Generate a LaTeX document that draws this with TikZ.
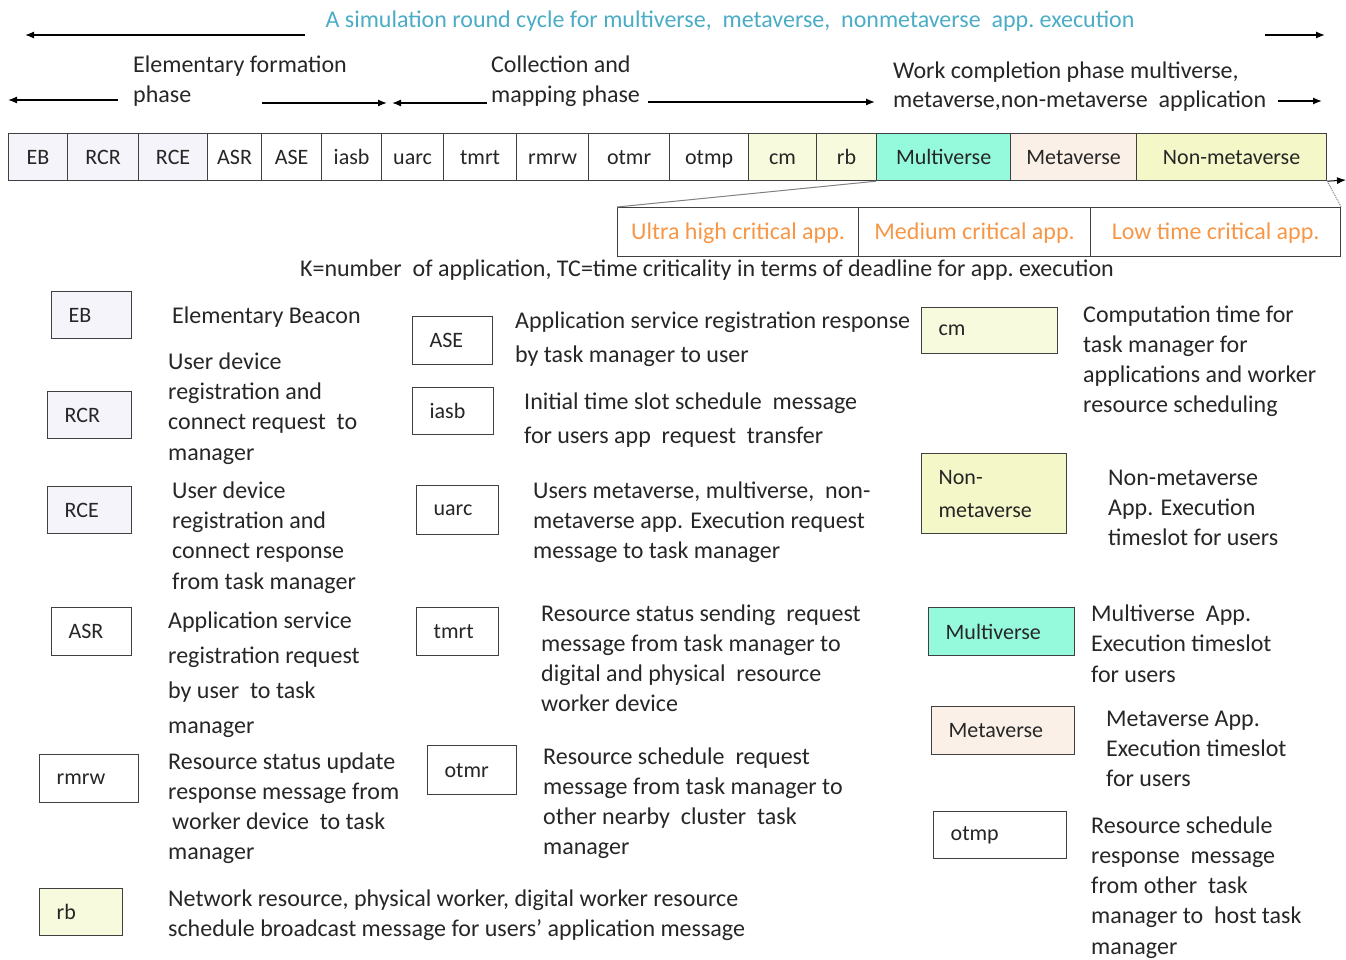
\documentclass[tikz,border=0pt]{standalone}
\usepackage{fontspec}
\setmainfont{Carlito}
\usetikzlibrary{arrows.meta}
\definecolor{txt}{HTML}{262626}
\definecolor{edge}{HTML}{404040}
\definecolor{titleblue}{HTML}{4BACC6}
\definecolor{critorange}{HTML}{F79646}
\definecolor{lav}{HTML}{F4F4FA}
\definecolor{palecream}{HTML}{F8FADD}
\definecolor{paleyellow}{HTML}{F4F7C8}
\definecolor{aqua}{HTML}{94FADB}
\definecolor{beige}{HTML}{FBF0E7}
\begin{document}
\begin{tikzpicture}[x=1pt,y=-1pt,
  every node/.style={text=txt},
  cell/.style={draw=edge, line width=1.2pt, anchor=north west, minimum height=47pt,
    inner sep=0pt, text height=17pt, text depth=2pt, font=\fontsize{22}{26}\selectfont},
  crit/.style={draw=edge, line width=1.2pt, anchor=north west, minimum height=49pt,
    inner sep=0pt, text height=17pt, text depth=2pt, text=critorange,
    font=\fontsize{24}{27}\selectfont},
  key/.style={draw=edge, line width=1.3pt, anchor=north west, inner xsep=17pt,
    inner ysep=0pt, align=left, font=\fontsize{22}{33}\selectfont},
  % multi-line descriptions are placed by the baseline of their last line
  desc/.style={anchor=base west, inner sep=0pt, align=left},
  head/.style={anchor=base west, inner sep=0pt, align=left},
  tip/.style={line width=1.3pt, draw=black, -{Latex[length=9pt,width=7pt]}},
]
\useasboundingbox (0,0) rectangle (1346,960);

% ---------- header: round cycle and phases ----------
\node[font=\fontsize{24}{26}\selectfont, text=titleblue, inner sep=0pt] (title) at (730,21)
  {A simulation round cycle for multiverse,\ \ metaverse,\ \ nonmetaverse\ \ app.\ execution};
\coordinate (r1a) at (305,35);  \coordinate (r1l) at (25,35);
\coordinate (r1b) at (1265,35); \coordinate (r1r) at (1325,35);
\draw[tip] (r1a) -- (r1l);
\draw[tip] (r1b) -- (r1r);

\node[head, font=\fontsize{24}{30}\selectfont] (ef) at (133,103) {Elementary formation\\phase};
\node[head, font=\fontsize{24}{30}\selectfont] (cmp) at (491,103) {Collection and\\mapping phase};
\node[head, font=\fontsize{24}{29}\selectfont] (wc) at (893,108)
  {Work completion phase multiverse,\\metaverse,non-metaverse\ \ application};

\coordinate (p1a) at (118,100); \coordinate (p1l) at (8,100);
\coordinate (p1b) at (262,103); \coordinate (p1r) at (387,103);
\coordinate (p2a) at (487,103); \coordinate (p2l) at (392,103);
\coordinate (p2b) at (648,102); \coordinate (p2r) at (875,102);
\coordinate (p3b) at (1278,101); \coordinate (p3r) at (1322,101);
\draw[tip] (p1a) -- (p1l);
\draw[tip] (p1b) -- (p1r);
\draw[tip] (p2a) -- (p2l);
\draw[tip] (p2b) -- (p2r);
\draw[tip] (p3b) -- (p3r);

% ---------- message slot bar ----------
\foreach \nm/\x/\w/\f/\t in {
  EB/8/59/lav/EB, RCR/67/71/lav/RCR, RCE/138/69/lav/RCE,
  ASR/207/54/white/ASR, ASE/261/60/white/ASE, iasb/321/60/white/iasb,
  uarc/381/62/white/uarc, tmrt/443/73/white/tmrt, rmrw/516/72/white/rmrw,
  otmr/588/81/white/otmr, otmp/669/79/white/otmp, cm/748/68/palecream/cm,
  rb/816/60/palecream/rb, Multi/876/134/aqua/Multiverse,
  Meta/1010/126/beige/Metaverse, Non/1136/190/paleyellow/Non-metaverse}
  \node[cell, fill=\f, minimum width=\w pt] (b\nm) at (\x,133) {\t};

\coordinate (barend) at (1346,180);
\draw[tip, line width=1pt] (bNon.south east) -- (barend);

% ---------- criticality strip ----------
\node[crit, minimum width=241pt] (crU) at (617,207) {Ultra high critical app.};
\node[crit, minimum width=232pt] (crM) at (858,207) {Medium critical app.};
\node[crit, minimum width=250pt] (crL) at (1090,207) {Low time critical app.};
\draw[gray, line width=1pt] (bMulti.south west) -- (crU.north west);
\draw[gray, line width=1pt, densely dotted] (bNon.south east) -- (crL.north east);

\node[font=\fontsize{24}{26}\selectfont, inner sep=0pt] (kline) at (707,270)
  {K=number\ \ of application, TC=time criticality in terms of deadline for app.\ execution};

% ---------- legend, first column ----------
\node[key, fill=lav, text width=46pt, minimum height=47pt] (kEB) at (51,291) {EB};
\node[desc, font=\fontsize{24}{30}\selectfont] (dEB) at (172,323) {Elementary Beacon};

\node[key, fill=lav, text width=50pt, minimum height=47pt] (kRCR) at (47,391) {RCR};
\node[desc, font=\fontsize{24}{30.3}\selectfont] (dRCR) at (168,460)
  {User device\\registration and\\connect request\ \ to\\manager};

\node[key, fill=lav, text width=50pt, minimum height=47pt] (kRCE) at (47,486) {RCE};
\node[desc, font=\fontsize{24}{30.3}\selectfont] (dRCE) at (172,589)
  {User device\\registration and\\connect response\\from task manager};

\node[key, fill=white, text width=46pt, minimum height=48pt] (kASR) at (51,607) {ASR};
\node[desc, font=\fontsize{24}{34.7}\selectfont] (dASR) at (168,733)
  {Application service\\registration request\\by user\ \ to task\\manager};

\node[key, fill=white, text width=65pt, minimum height=48pt] (krmrw) at (39,754) {rmrw};
\node[desc, font=\fontsize{24}{30}\selectfont] (drmrw) at (168,859)
  {Resource status update\\response message from\\\hspace*{4pt}worker device\ \ to task\\manager};

\node[key, fill=palecream, text width=49pt, minimum height=47pt] (krb) at (39,888) {rb};
\node[desc, font=\fontsize{24}{30}\selectfont] (drb) at (168,936)
  {Network resource, physical worker, digital worker resource\\schedule broadcast message for users’ application message};

% ---------- legend, second column ----------
\node[key, fill=white, text width=46pt, minimum height=48pt] (kASE) at (412,316) {ASE};
\node[desc, font=\fontsize{24}{34}\selectfont] (dASE) at (515,362)
  {Application service registration response\\by task manager to user};

\node[key, fill=white, text width=47pt, minimum height=47pt] (kiasb) at (412,387) {iasb};
\node[desc, font=\fontsize{24}{34}\selectfont] (diasb) at (524,443)
  {Initial time slot schedule\ \ message\\for users app\ \ request\ \ transfer};

\node[key, fill=white, text width=48pt, minimum height=49pt] (kuarc) at (416,485) {uarc};
\node[desc, font=\fontsize{24}{30}\selectfont] (duarc) at (533,558)
  {Users metaverse, multiverse,\ \ non-\\metaverse app. Execution request\\message to task manager};

\node[key, fill=white, text width=48pt, minimum height=48pt] (ktmrt) at (416,607) {tmrt};
\node[desc, font=\fontsize{24}{30}\selectfont] (dtmrt) at (541,711)
  {Resource status sending\ \ request\\message from task manager to\\digital and physical\ \ resource\\worker device};

\node[key, fill=white, text width=55pt, minimum height=49pt] (kotmr) at (427,745) {otmr};
\node[desc, font=\fontsize{24}{30}\selectfont] (dotmr) at (543,854)
  {Resource schedule\ \ request\\message from task manager to\\other nearby\ \ cluster\ \ task\\manager};

% ---------- legend, third column ----------
\node[key, fill=palecream, text width=102pt, minimum height=46pt] (kcm) at (921,307) {cm};
\node[desc, font=\fontsize{24}{29.7}\selectfont] (dcm) at (1083,412)
  {Computation time for\\task manager for\\applications and worker\\resource scheduling};

\node[key, fill=paleyellow, text width=111pt, minimum height=80pt] (kNon) at (921,453) {Non-\\metaverse};
\node[desc, font=\fontsize{24}{30}\selectfont] (dNon) at (1108,545)
  {Non-metaverse\\App. Execution\\timeslot for users};

\node[key, fill=aqua, text width=112pt, minimum height=48pt] (kMulti) at (928,607) {Multiverse};
\node[desc, font=\fontsize{24}{30.5}\selectfont] (dMulti) at (1091,682)
  {Multiverse\ \ App.\\Execution timeslot\\for users};

\node[key, fill=beige, text width=109pt, minimum height=48pt] (kMeta) at (931,706) {Metaverse};
\node[desc, font=\fontsize{24}{30}\selectfont] (dMeta) at (1106,786)
  {Metaverse App.\\Execution timeslot\\for users};

\node[key, fill=white, text width=99pt, minimum height=47pt] (kotmp) at (933,811) {otmp};
\node[desc, font=\fontsize{24}{30.2}\selectfont] (dotmp) at (1091,954)
  {Resource schedule\\response\ \ message\\from other\ \ task\\manager to\ \ host task\\manager};
\end{tikzpicture}
\end{document}
